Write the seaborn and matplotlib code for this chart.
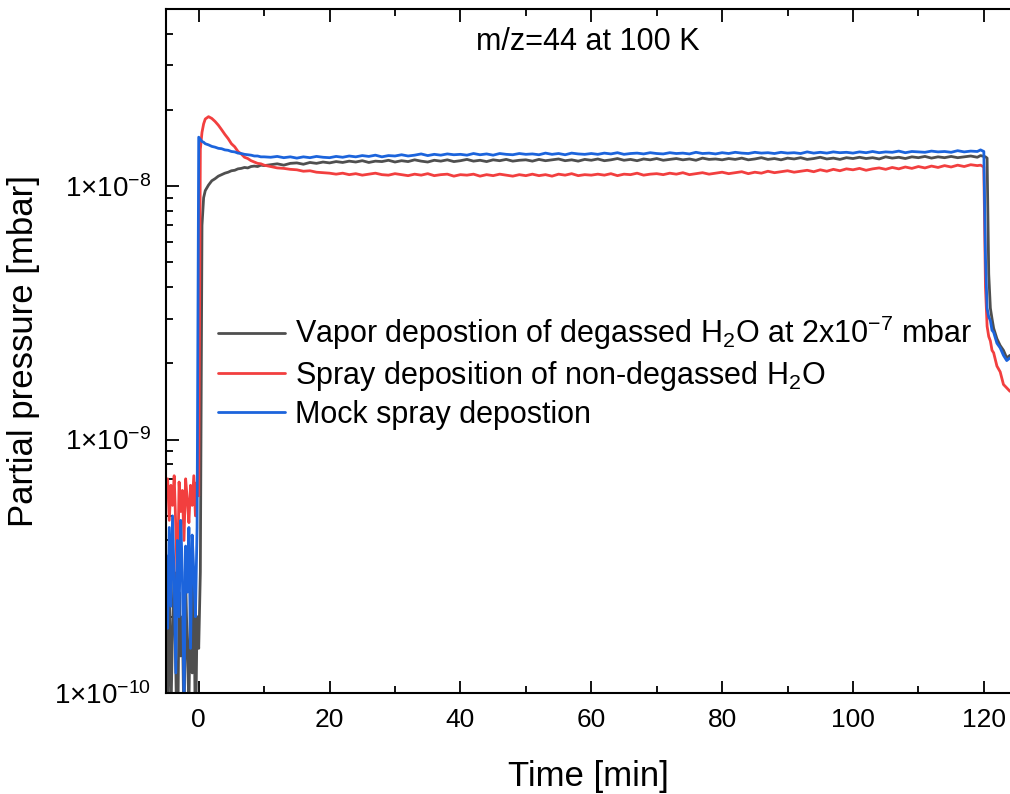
import numpy as np
import pandas as pd
import matplotlib
matplotlib.use("Agg")
import matplotlib.pyplot as plt
import seaborn as sns
from matplotlib.ticker import LogLocator, FuncFormatter, NullFormatter, MultipleLocator
from matplotlib.lines import Line2D

# ---------------- data (pressure in units of 1e-9 mbar) ----------------
time_pre = [-5.0, -4.75, -4.5, -4.25, -4.0, -3.75, -3.5, -3.25, -3.0, -2.75, -2.5,
            -2.25, -2.0, -1.75, -1.5, -1.25, -1.0, -0.75, -0.5, -0.25, 0.0]
time_rise = [0.25, 0.5, 0.75, 1, 1.5, 2, 2.5, 3, 3.5, 4, 4.5, 5, 5.5, 6, 6.5, 7,
             7.5, 8, 8.5, 9, 9.5, 10]
time_mid = [11, 12, 13, 14, 15, 16, 17, 18, 19, 20,
            21, 22, 23, 24, 25, 26, 27, 28, 29, 30,
            31, 32, 33, 34, 35, 36, 37, 38, 39, 40,
            41, 42, 43, 44, 45, 46, 47, 48, 49, 50,
            51, 52, 53, 54, 55, 56, 57, 58, 59, 60,
            61, 62, 63, 64, 65, 66, 67, 68, 69, 70,
            71, 72, 73, 74, 75, 76, 77, 78, 79, 80,
            81, 82, 83, 84, 85, 86, 87, 88, 89, 90,
            91, 92, 93, 94, 95, 96, 97, 98, 99, 100,
            101, 102, 103, 104, 105, 106, 107, 108, 109, 110,
            111, 112, 113, 114, 115, 116, 117, 118, 119]
time_end = [119.5, 120, 120.25, 120.5, 120.75, 121, 121.25, 121.5, 122, 122.5,
            123, 123.5, 124]

vapor_pre = [0.22, 0.10, 0.28, 0.08, 0.18, 0.30, 0.12, 0.05, 0.25, 0.14, 0.20,
             0.07, 0.28, 0.15, 0.09, 0.24, 0.12, 0.30, 0.06, 0.20, 0.15]
vapor_rise = [0.3, 7.0, 9.0, 9.6, 10.1, 10.5, 10.7, 10.95, 11.1, 11.25, 11.35,
              11.5, 11.55, 11.7, 11.75, 11.85, 11.8, 11.95, 12.0, 11.95, 12.1, 12.05]
vapor_mid = [12.15, 12.25, 12.10, 12.30, 12.35, 12.20, 12.40, 12.30, 12.45, 12.35,
             12.50, 12.40, 12.55, 12.45, 12.60, 12.40, 12.55, 12.50, 12.65, 12.45,
             12.60, 12.50, 12.70, 12.55, 12.45, 12.65, 12.55, 12.70, 12.50, 12.60,
             12.75, 12.55, 12.65, 12.50, 12.70, 12.60, 12.75, 12.55, 12.65, 12.70,
             12.55, 12.75, 12.60, 12.70, 12.80, 12.60, 12.70, 12.55, 12.75, 12.65,
             12.80, 12.60, 12.70, 12.85, 12.65, 12.75, 12.60, 12.80, 12.70, 12.85,
             12.65, 12.75, 12.85, 12.70, 12.80, 12.65, 12.90, 12.75, 12.80, 12.70,
             12.85, 12.75, 12.90, 12.70, 12.80, 12.95, 12.75, 12.85, 12.70, 12.90,
             12.80, 12.95, 12.75, 12.85, 13.00, 12.80, 12.90, 12.75, 12.95, 12.85,
             13.00, 12.85, 12.95, 12.80, 13.05, 12.90, 13.00, 12.85, 13.05, 12.95,
             13.10, 12.90, 13.05, 12.95, 13.10, 12.95, 13.05, 13.15, 13.00]
vapor_end = [13.2, 13.1, 13.05, 12.9, 4.5, 3.3, 3.0, 2.75, 2.5, 2.35, 2.25, 2.1, 2.15]

spray_pre = [0.62, 0.70, 0.48, 0.66, 0.55, 0.72, 0.45, 0.25, 0.68, 0.52, 0.63,
             0.40, 0.70, 0.58, 0.47, 0.66, 0.55, 0.72, 0.50, 0.68, 0.60]
spray_rise = [14.0, 16.3, 17.6, 18.4, 18.8, 18.5, 18.0, 17.4, 16.7, 16.0, 15.4,
              14.7, 14.3, 13.7, 13.4, 13.0, 12.85, 12.6, 12.45, 12.3, 12.25, 12.1]
spray_mid = [11.95, 11.80, 11.75, 11.65, 11.60, 11.45, 11.50, 11.35, 11.30, 11.25,
             11.15, 11.25, 11.10, 11.20, 11.05, 11.15, 11.25, 11.10, 11.05, 11.20,
             11.10, 11.00, 11.15, 11.05, 11.20, 11.00, 11.10, 11.15, 10.95, 11.10,
             11.05, 11.15, 10.95, 11.10, 11.00, 11.15, 11.05, 10.95, 11.10, 11.00,
             11.15, 11.00, 11.10, 10.95, 11.15, 11.05, 11.20, 11.00, 11.10, 11.05,
             11.15, 11.05, 11.20, 11.00, 11.15, 11.10, 11.25, 11.05, 11.15, 11.20,
             11.10, 11.25, 11.15, 11.30, 11.10, 11.20, 11.30, 11.15, 11.25, 11.35,
             11.20, 11.30, 11.40, 11.20, 11.35, 11.25, 11.45, 11.30, 11.40, 11.50,
             11.35, 11.45, 11.55, 11.40, 11.60, 11.45, 11.65, 11.50, 11.70, 11.60,
             11.75, 11.55, 11.70, 11.80, 11.65, 11.85, 11.70, 11.90, 11.75, 11.95,
             11.80, 12.00, 11.85, 12.05, 11.90, 12.10, 11.95, 12.15, 12.05]
spray_end = [12.1, 11.9, 4.0, 2.8, 2.55, 2.45, 2.25, 2.2, 1.95, 1.85, 1.65, 1.6, 1.55]

mock_pre = [0.35, 0.18, 0.45, 0.22, 0.50, 0.28, 0.12, 0.40, 0.20, 0.48, 0.30,
            0.09, 0.38, 0.25, 0.45, 0.15, 0.42, 0.30, 0.20, 0.45, 15.6]
mock_rise = [15.3, 15.0, 14.9, 14.7, 14.55, 14.35, 14.25, 14.1, 14.05, 13.9, 13.85,
             13.7, 13.65, 13.5, 13.45, 13.35, 13.3, 13.25, 13.15, 13.15, 13.05, 13.05]
mock_mid = [13.00, 13.10, 12.95, 13.05, 12.90, 13.05, 12.95, 13.10, 13.00, 12.95,
            13.10, 13.00, 13.15, 13.05, 13.20, 13.10, 13.25, 13.05, 13.20, 13.15,
            13.30, 13.15, 13.25, 13.40, 13.20, 13.35, 13.25, 13.40, 13.30, 13.35,
            13.25, 13.45, 13.30, 13.40, 13.25, 13.45, 13.35, 13.30, 13.45, 13.35,
            13.40, 13.30, 13.50, 13.35, 13.45, 13.30, 13.50, 13.40, 13.35, 13.45,
            13.35, 13.50, 13.40, 13.55, 13.35, 13.45, 13.50, 13.40, 13.55, 13.45,
            13.40, 13.55, 13.45, 13.50, 13.40, 13.60, 13.45, 13.50, 13.40, 13.55,
            13.45, 13.60, 13.50, 13.45, 13.60, 13.50, 13.55, 13.45, 13.60, 13.50,
            13.55, 13.45, 13.65, 13.50, 13.60, 13.50, 13.65, 13.55, 13.60, 13.50,
            13.65, 13.55, 13.70, 13.55, 13.65, 13.60, 13.75, 13.55, 13.70, 13.65,
            13.60, 13.75, 13.65, 13.70, 13.60, 13.80, 13.65, 13.75, 13.70]
mock_end = [13.9, 13.7, 5.2, 3.3, 3.05, 2.95, 2.7, 2.65, 2.4, 2.3, 2.15, 2.05, 2.1]

series_names = ["Vapor depostion of degassed H$_2$O at 2x10$^{-7}$ mbar",
                "Spray deposition of non-degassed H$_2$O",
                "Mock spray depostion"]
series_colors = ["#4f4f4f", "#f23f3f", "#1c64dc"]
title_text = "m/z=44 at 100 K"
x_label = "Time [min]"
y_label = "Partial pressure [mbar]"

time_all = time_pre + time_rise + time_mid + time_end
values = [vapor_pre + vapor_rise + vapor_mid + vapor_end,
          spray_pre + spray_rise + spray_mid + spray_end,
          mock_pre + mock_rise + mock_mid + mock_end]

frames = []
for name, vals in zip(series_names, values):
    frames.append(pd.DataFrame({"Time": time_all,
                                "Pressure": np.array(vals) * 1e-9,
                                "Series": name}))
df = pd.concat(frames, ignore_index=True)

# ---------------- style ----------------
sns.set_theme(style="ticks")
plt.rcParams["font.family"] = ["Liberation Sans", "DejaVu Sans"]
plt.rcParams["mathtext.fontset"] = "custom"
plt.rcParams["mathtext.rm"] = "Liberation Sans"
plt.rcParams["mathtext.it"] = "Liberation Sans:italic"
plt.rcParams["mathtext.bf"] = "Liberation Sans:bold"
plt.rcParams["mathtext.sf"] = "Liberation Sans"
plt.rcParams["mathtext.default"] = "regular"
plt.rcParams["text.color"] = "black"
plt.rcParams["axes.labelcolor"] = "black"
plt.rcParams["xtick.color"] = "black"
plt.rcParams["ytick.color"] = "black"
plt.rcParams["xtick.labelcolor"] = "black"
plt.rcParams["ytick.labelcolor"] = "black"

fig = plt.figure(figsize=(10.10, 7.94), dpi=100)
ax = fig.add_axes([166 / 1010, 1 - 693 / 794, 1 - 166 / 1010, (693 - 9) / 794])

sns.lineplot(data=df, x="Time", y="Pressure", hue="Series",
             hue_order=series_names, palette=series_colors,
             estimator=None, sort=False, linewidth=2.0, legend=False, ax=ax)

ax.set_yscale("log")
ax.set_ylim(1e-10, 5e-8)
ax.set_xlim(-5, 124)

ax.xaxis.set_major_locator(MultipleLocator(20))
ax.xaxis.set_minor_locator(MultipleLocator(10))
ax.yaxis.set_major_locator(LogLocator(base=10, numticks=10))
ax.yaxis.set_minor_locator(LogLocator(base=10, subs=np.arange(2, 10), numticks=20))


def sci_fmt(v, pos):
    e = int(np.round(np.log10(v)))
    return r"$1{\times}10^{%d}$" % e


ax.yaxis.set_major_formatter(FuncFormatter(sci_fmt))
ax.yaxis.set_minor_formatter(NullFormatter())

for side in ["left", "top", "bottom"]:
    ax.spines[side].set_linewidth(1.5)
    ax.spines[side].set_color("black")
ax.spines["right"].set_visible(False)

ax.tick_params(which="both", direction="in", top=True, right=False,
               width=1.3, colors="black", labelcolor="black", labelsize=19)
ax.tick_params(which="major", length=9)
ax.tick_params(which="minor", length=5)
ax.tick_params(axis="x", which="major", pad=11)
ax.tick_params(axis="y", which="major", pad=11, labelsize=20)

ax.set_xlabel(x_label, fontsize=25, labelpad=20, color="black")
ax.set_ylabel(y_label, fontsize=25, labelpad=10, color="black")

ax.text(0.5, 0.940, title_text, transform=ax.transAxes, ha="center",
        va="baseline", fontsize=22, color="black")

handles = [Line2D([0], [0], color=c, lw=2.0) for c in series_colors]
leg = ax.legend(handles, series_names, loc="center left",
                bbox_to_anchor=(52 / 844, (693 - 372) / 684), frameon=False,
                fontsize=22, handlelength=2.2, handletextpad=0.33, labelspacing=0.22,
                borderpad=0, borderaxespad=0)
for t in leg.get_texts():
    t.set_color("black")

fig.savefig("out.png", dpi=100)
